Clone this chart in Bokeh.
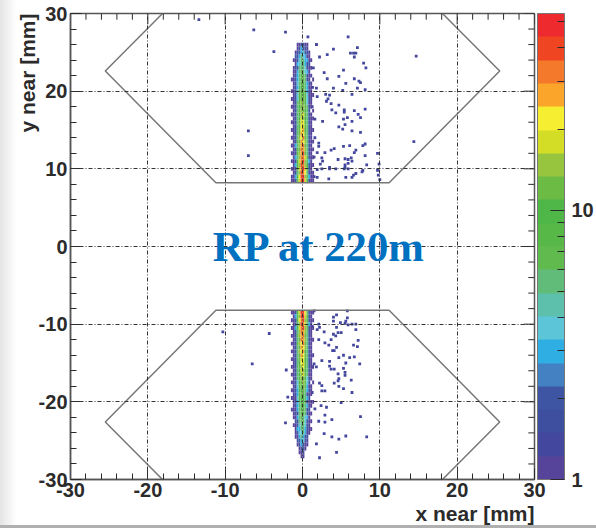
from bokeh.embed import file_html
from bokeh.resources import INLINE
from bokeh.plotting import figure
from bokeh.models import ColorBar, LogColorMapper, FixedTicker, Label, ColumnDataSource, Title

palette = ["#56439A", "#43479D", "#3E4FA0", "#3E55A3", "#4381C2", "#2FAEE3", "#5CC6D8",
           "#5CC0AC", "#61BC7A", "#61BA4E", "#57B848", "#4FB648", "#6BBB45", "#98C53E",
           "#D3DD26", "#F6EE30", "#FBA52B", "#F4792B", "#EF4523", "#EE2A2E"]

core_x = [-1.375, -1.125, -0.875, -0.625, -0.375, -0.125, 0.125, 0.375, 0.625, 0.875, 1.125, 1.375]

core_top_y = [8.5, 9.0, 9.5, 10.0, 10.5, 11.0, 11.5, 12.0, 12.5, 13.0, 13.5, 14.0, 14.5, 15.0, 15.5,
              16.0, 16.5, 17.0, 17.5, 18.0, 18.5, 19.0, 19.5, 20.0, 20.5, 21.0, 21.5, 22.0, 22.5,
              23.0, 23.5, 24.0, 24.5, 25.0, 25.5, 26.0]
core_top = [
    [1, 1, 2, 7, 17, 42, 47, 19, 8, 2, 1, 1],
    [1, 1, 3, 9, 21, 38, 52, 15, 7, 3, 1, 1],
    [0, 1, 2, 6, 16, 44, 36, 22, 6, 2, 1, 1],
    [1, 1, 2, 8, 19, 33, 46, 17, 7, 2, 1, 0],
    [0, 1, 3, 7, 15, 40, 34, 16, 9, 2, 1, 1],
    [1, 1, 2, 8, 18, 31, 39, 14, 6, 3, 1, 0],
    [0, 1, 3, 6, 14, 36, 30, 18, 7, 2, 1, 1],
    [1, 1, 2, 7, 16, 28, 37, 13, 5, 2, 1, 0],
    [0, 1, 2, 8, 13, 33, 26, 15, 6, 2, 1, 1],
    [1, 1, 3, 6, 15, 25, 34, 12, 5, 2, 1, 0],
    [0, 1, 2, 7, 12, 29, 24, 14, 6, 2, 1, 1],
    [1, 1, 2, 5, 14, 23, 30, 11, 5, 2, 1, 0],
    [0, 1, 2, 6, 11, 26, 22, 13, 5, 2, 1, 0],
    [1, 1, 2, 5, 13, 21, 25, 10, 5, 2, 1, 1],
    [0, 1, 2, 6, 10, 23, 19, 11, 5, 2, 1, 0],
    [1, 1, 2, 5, 12, 18, 22, 9, 5, 2, 1, 0],
    [0, 1, 2, 5, 9, 19, 16, 10, 5, 2, 1, 1],
    [1, 1, 2, 5, 10, 15, 18, 8, 5, 2, 1, 0],
    [0, 1, 2, 5, 8, 16, 13, 9, 5, 2, 0, 1],
    [1, 1, 2, 5, 9, 13, 15, 7, 5, 2, 1, 0],
    [0, 1, 2, 5, 8, 14, 11, 8, 4, 1, 1, 0],
    [1, 1, 2, 4, 8, 11, 12, 7, 4, 2, 1, 0],
    [0, 1, 2, 4, 7, 12, 10, 7, 4, 1, 1, 1],
    [1, 1, 2, 4, 7, 9, 11, 6, 3, 2, 1, 0],
    [0, 1, 2, 3, 6, 10, 8, 6, 3, 1, 1, 0],
    [0, 1, 2, 4, 6, 8, 9, 5, 3, 2, 1, 0],
    [1, 1, 2, 3, 6, 8, 7, 5, 2, 1, 0, 1],
    [0, 1, 2, 3, 5, 7, 8, 5, 2, 1, 1, 0],
    [0, 1, 1, 3, 5, 7, 6, 4, 3, 1, 0, 0],
    [0, 1, 2, 2, 5, 6, 6, 4, 2, 1, 1, 0],
    [0, 0, 1, 3, 4, 6, 5, 3, 2, 2, 0, 0],
    [0, 1, 1, 2, 4, 5, 5, 3, 3, 1, 1, 0],
    [0, 0, 2, 2, 3, 5, 4, 3, 1, 1, 0, 0],
    [0, 0, 1, 2, 2, 3, 4, 2, 2, 1, 0, 0],
    [0, 0, 0, 1, 2, 3, 2, 2, 1, 0, 0, 0],
    [0, 0, 0, 1, 1, 2, 2, 1, 1, 0, 0, 0],
]

core_bottom_y = [-8.5, -9.0, -9.5, -10.0, -10.5, -11.0, -11.5, -12.0, -12.5, -13.0, -13.5, -14.0,
                 -14.5, -15.0, -15.5, -16.0, -16.5, -17.0, -17.5, -18.0, -18.5, -19.0, -19.5, -20.0,
                 -20.5, -21.0, -21.5, -22.0, -22.5, -23.0, -23.5, -24.0, -24.5, -25.0, -25.5, -26.0,
                 -26.5, -27.0]
core_bottom = [
    [1, 1, 2, 8, 18, 46, 38, 21, 6, 2, 1, 1],
    [0, 1, 3, 7, 16, 41, 50, 17, 8, 2, 1, 0],
    [1, 1, 2, 9, 20, 35, 43, 15, 7, 2, 1, 1],
    [0, 1, 2, 6, 15, 39, 33, 19, 6, 3, 1, 0],
    [1, 1, 3, 8, 17, 30, 41, 14, 7, 2, 1, 1],
    [0, 1, 2, 6, 14, 36, 29, 16, 5, 2, 1, 0],
    [1, 1, 2, 7, 16, 27, 35, 13, 6, 2, 1, 0],
    [0, 1, 2, 6, 13, 32, 25, 15, 5, 2, 1, 1],
    [1, 1, 2, 7, 15, 24, 31, 12, 6, 2, 1, 0],
    [0, 1, 2, 5, 12, 28, 22, 14, 5, 2, 1, 0],
    [1, 1, 2, 6, 14, 21, 27, 10, 5, 2, 1, 0],
    [0, 1, 2, 5, 11, 25, 20, 12, 5, 2, 1, 1],
    [1, 1, 2, 6, 13, 19, 24, 9, 5, 2, 1, 0],
    [0, 1, 2, 5, 10, 22, 17, 11, 5, 2, 1, 0],
    [1, 1, 2, 5, 12, 16, 21, 8, 5, 2, 1, 1],
    [0, 1, 2, 5, 9, 19, 15, 10, 5, 2, 1, 0],
    [1, 1, 2, 5, 10, 14, 17, 7, 5, 1, 1, 0],
    [0, 1, 2, 5, 8, 15, 12, 8, 4, 2, 1, 0],
    [1, 1, 2, 4, 9, 12, 14, 7, 4, 2, 0, 1],
    [0, 1, 2, 4, 8, 13, 11, 7, 3, 1, 1, 0],
    [1, 1, 2, 3, 8, 10, 12, 6, 3, 2, 1, 0],
    [0, 1, 2, 3, 7, 11, 9, 6, 2, 1, 1, 0],
    [1, 1, 1, 4, 7, 9, 10, 6, 3, 2, 0, 0],
    [0, 1, 2, 3, 6, 10, 8, 5, 2, 1, 1, 1],
    [0, 1, 2, 3, 6, 8, 9, 5, 3, 1, 1, 0],
    [1, 1, 1, 3, 6, 8, 7, 5, 2, 2, 0, 0],
    [0, 1, 2, 2, 5, 7, 8, 5, 2, 1, 1, 0],
    [0, 1, 1, 3, 5, 7, 6, 4, 3, 1, 0, 0],
    [0, 0, 2, 2, 5, 6, 7, 4, 2, 1, 1, 0],
    [0, 1, 1, 2, 4, 6, 5, 4, 2, 1, 0, 0],
    [0, 0, 1, 3, 3, 5, 6, 3, 2, 1, 1, 0],
    [0, 0, 1, 2, 4, 4, 5, 3, 1, 1, 0, 0],
    [0, 0, 1, 1, 3, 5, 3, 2, 2, 0, 0, 0],
    [0, 0, 0, 2, 2, 3, 4, 2, 1, 0, 0, 0],
    [0, 0, 0, 1, 2, 3, 2, 1, 1, 0, 0, 0],
    [0, 0, 0, 0, 1, 2, 2, 1, 0, 0, 0, 0],
    [0, 0, 0, 0, 1, 1, 2, 0, 0, 0, 0, 0],
    [0, 0, 0, 0, 0, 1, 1, 0, 0, 0, 0, 0],
]

stray_x = [-13.4, -6.3, -2.2, -3.7, -7.0, -7.0, 0.7, 1.8, 5.9, 1.8, 4.0, 7.1, 6.2, 6.6, 6.9, 14.7, 2.2, 3.2,
           6.7, 7.9, 8.2, 5.3, 2.8, 4.7, 3.2, 6.7, 5.6, 7.3, 7.5, 1.8, 4.0, 5.2, 7.1, 8.1, 6.4, 3.0, 3.5, 1.9,
           3.3, 3.1, 3.7, 4.7, 1.25, 3.8, 4.3, 5.4, 5.4, 6.7, 8.1, 7.2, 7.5, 1.6, 2.6, 5.3, 6.4, 5.8, 4.7, 5.2,
           5.5, 7.5, 6.4, 2.1, 2.1, 6.1, 5.3, 7.8, 8.1, 14.4, 6.9, 4.1, 3.7, 2.9, 1.9, 6.7, 8.1, 9.7, 2.5, 2.6,
           4.6, 5.5, 5.9, 6.3, 6.4, 2.3, 5.5, 5.5, 5.9, 8.3, 9.9, 3.5, 1.9, 2.5, 3.5, 4.3, 5.4, 5.9, 7.8, 7.7,
           9.7, 6.9, 6.6, 6.4, 9.8, 1.5, 1.9, 5.6, 3.4, 10.0, 1.4, 1.3, 1.6, 1.5,
           -10.3, -4.3, -6.5, -2.1, -1.9, -2.2, 1.5, 4.4, 5.8, 4.0, 5.8, 4.0, 5.6, 5.5, 4.9, 6.4, 6.9, 5.9, 2.1,
           1.25, 2.2, 1.9, 4.4, 6.9, 2.8, 4.0, 4.3, 4.6, 5.0, 7.2, 3.7, 2.1, 2.9, 3.4, 6.6, 7.1, 4.4, 3.9, 4.1,
           4.7, 6.1, 6.7, 5.3, 2.5, 3.5, 5.6, 7.4, 1.5, 1.3, 1.8, 3.5, 3.7, 4.1, 5.3, 4.6, 5.5, 5.5, 4.7, 4.6,
           4.1, 6.3, 2.2, 2.5, 4.7, 5.3, 2.5, 2.9, 1.25, 6.4, 5.0, 2.4, 3.1, 1.6, 7.5, 2.9, 3.8, 2.1, 2.9, 2.8,
           3.8, 5.6, 4.7, 8.3, 1.8, 4.4, 2.2]
stray_y = [29.2, 27.9, 27.6, 25.1, 14.9, 11.7, 27.0, 26.0, 27.0, 26.0, 25.4, 25.6, 24.9, 24.9, 24.9, 24.5, 24.4,
           24.7, 24.4, 23.6, 23.0, 22.7, 22.4, 21.9, 21.6, 21.6, 21.0, 21.3, 21.1, 20.4, 20.4, 20.1, 20.4, 20.2,
           19.6, 19.6, 19.5, 19.3, 19.0, 18.7, 18.4, 18.2, 18.0, 17.6, 17.2, 17.6, 17.3, 17.5, 17.7, 17.0, 16.6,
           16.4, 16.1, 16.4, 16.1, 16.6, 15.4, 15.1, 15.7, 14.7, 14.9, 13.3, 12.9, 13.0, 12.9, 13.0, 13.2, 13.5,
           12.4, 12.6, 12.4, 12.1, 12.1, 12.1, 11.7, 12.0, 11.4, 11.0, 11.2, 11.3, 11.2, 11.4, 11.0, 10.6, 10.5,
           10.2, 10.7, 10.5, 10.6, 10.2, 9.9, 10.0, 10.0, 10.0, 10.0, 10.0, 9.8, 9.6, 9.8, 9.4, 9.2, 8.9, 9.2, 9.0,
           8.9, 8.9, 8.7, 8.6, 23.0, 20.5, 14.0, 11.5,
           -11.0, -11.2, -15.1, -15.9, -19.4, -22.7, -8.3, -8.8, -8.3, -9.1, -9.2, -9.6, -9.6, -9.9, -9.8, -10.0,
           -10.0, -10.1, -10.0, -10.3, -10.4, -10.7, -10.4, -10.7, -11.0, -11.3, -11.5, -11.1, -11.1, -12.1, -12.0,
           -12.0, -12.4, -12.7, -12.7, -12.9, -13.0, -13.4, -13.4, -14.3, -14.3, -14.2, -14.0, -14.7, -14.8, -15.0,
           -15.1, -15.1, -15.5, -15.5, -15.4, -15.8, -15.8, -15.7, -16.4, -16.2, -16.6, -17.0, -17.3, -17.6, -17.2,
           -17.6, -17.9, -18.0, -18.3, -18.6, -18.6, -18.8, -18.8, -20.1, -20.5, -20.7, -20.9, -21.9, -21.7, -22.3,
           -22.5, -22.6, -24.1, -24.5, -24.4, -24.8, -24.5, -25.4, -26.5, -27.2]

outline_top_x = [-18.1, -25.5, -11.2, 11.2, 25.5, 18.1]
outline_top_y = [30.0, 22.6, 8.2, 8.2, 22.6, 30.0]
outline_bottom_x = [-18.1, -25.5, -11.2, 11.2, 25.5, 18.1]
outline_bottom_y = [-30.0, -22.6, -8.2, -8.2, -22.6, -30.0]

major_ticks = [-30, -20, -10, 0, 10, 20, 30]
minor_ticks = [-28, -26, -24, -22, -18, -16, -14, -12, -8, -6, -4, -2,
               2, 4, 6, 8, 12, 14, 16, 18, 22, 24, 26, 28]
tick_labels = {t: str(t) for t in major_ticks}
bar_ticks = [1, 10]
bar_minor_ticks = [2, 3, 4, 5, 6, 7, 8, 9, 20, 30, 40, 50]

cell_x, cell_y, cell_n = [], [], []
for ys, table in ((core_top_y, core_top), (core_bottom_y, core_bottom)):
    for y, row in zip(ys, table):
        for x, n in zip(core_x, row):
            if n > 0:
                cell_x.append(x)
                cell_y.append(y)
                cell_n.append(n)

mapper = LogColorMapper(palette=palette, low=1, high=53.7)
FONT = "Liberation Sans"
INK = "#2b2b2b"

p = figure(width=596, height=528, x_range=(-30, 30), y_range=(-30, 30),
           output_backend="svg", toolbar_location=None, min_border_left=70, min_border_top=13,
           min_border_bottom=49, min_border_right=62, background_fill_color="white",
           border_fill_color=None)
p.styles = {"background": "linear-gradient(to top, #b0b0b0 3px, transparent 3px), "
                          "linear-gradient(to right, #e4e4e4 0, #ffffff 16px)"}

p.rect(stray_x, stray_y, width=0.36, height=0.36, fill_color=palette[1], line_color=None)
p.rect("x", "y", width=0.25, height=0.5, line_color=None,
       fill_color={"field": "n", "transform": mapper},
       source=ColumnDataSource(dict(x=cell_x, y=cell_y, n=cell_n)))
p.line(outline_top_x, outline_top_y, line_color="#777777", line_width=1.5)
p.line(outline_bottom_x, outline_bottom_y, line_color="#777777", line_width=1.5)

# the frame's top and right ticks, drawn in data space from the tick lists
for ticks, length in ((major_ticks, 1.4), (minor_ticks, 0.8)):
    p.segment(x0=ticks, x1=ticks, y0=[30] * len(ticks), y1=[30 - length] * len(ticks),
              line_color=INK, line_width=1)
    p.segment(x0=[30] * len(ticks), x1=[30 - length] * len(ticks), y0=ticks, y1=ticks,
              line_color=INK, line_width=1)

for g in (p.xgrid[0], p.ygrid[0]):
    g.ticker = FixedTicker(ticks=major_ticks)
    g.grid_line_color = "#333333"
    g.grid_line_dash = "4 2 1 2"
    g.grid_line_width = 1
    g.level = "guide"

p.outline_line_color = "#555555"
p.outline_line_width = 1.5

for ax in (p.xaxis[0], p.yaxis[0]):
    ax.ticker = FixedTicker(ticks=major_ticks, minor_ticks=minor_ticks)
    ax.major_tick_in = 11
    ax.major_tick_out = 0
    ax.minor_tick_in = 6
    ax.minor_tick_out = 0
    ax.major_tick_line_color = INK
    ax.minor_tick_line_color = INK
    ax.axis_line_color = "#555555"
    ax.axis_line_width = 1.5
    ax.major_label_overrides = tick_labels
    ax.major_label_text_font = FONT
    ax.major_label_text_font_style = "bold"
    ax.major_label_text_font_size = "20px"
    ax.major_label_text_color = INK
    ax.major_label_standoff = 3

title_style = dict(text_font=FONT, text_font_style="bold", text_font_size="21px", text_color=INK,
                   align="right", offset=0)
p.add_layout(Title(text="x near [mm]", standoff=0, **title_style), "below")
p.add_layout(Title(text="y near [mm]", standoff=-6, **title_style), "left")

bar = ColorBar(color_mapper=mapper, ticker=FixedTicker(ticks=bar_ticks, minor_ticks=bar_minor_ticks),
               width=27, height=466, location=(3, 0), padding=0, margin=0,
               major_tick_in=14, minor_tick_in=7, major_tick_line_color=INK, minor_tick_line_color=INK,
               bar_line_color="#777777", border_line_color=None, background_fill_color=None,
               major_label_text_font=FONT, major_label_text_font_style="bold",
               major_label_text_font_size="20px", major_label_text_color=INK, label_standoff=7)
p.add_layout(bar, "right")

p.add_layout(Label(x=-11.6, y=0.0, text="RP at 220m", text_font="Liberation Serif", text_font_style="bold",
                   text_font_size="42.7px", text_color="#0070C0", text_baseline="alphabetic",
                   level="annotation"))

open("out.html", "w").write(file_html(p, INLINE))
